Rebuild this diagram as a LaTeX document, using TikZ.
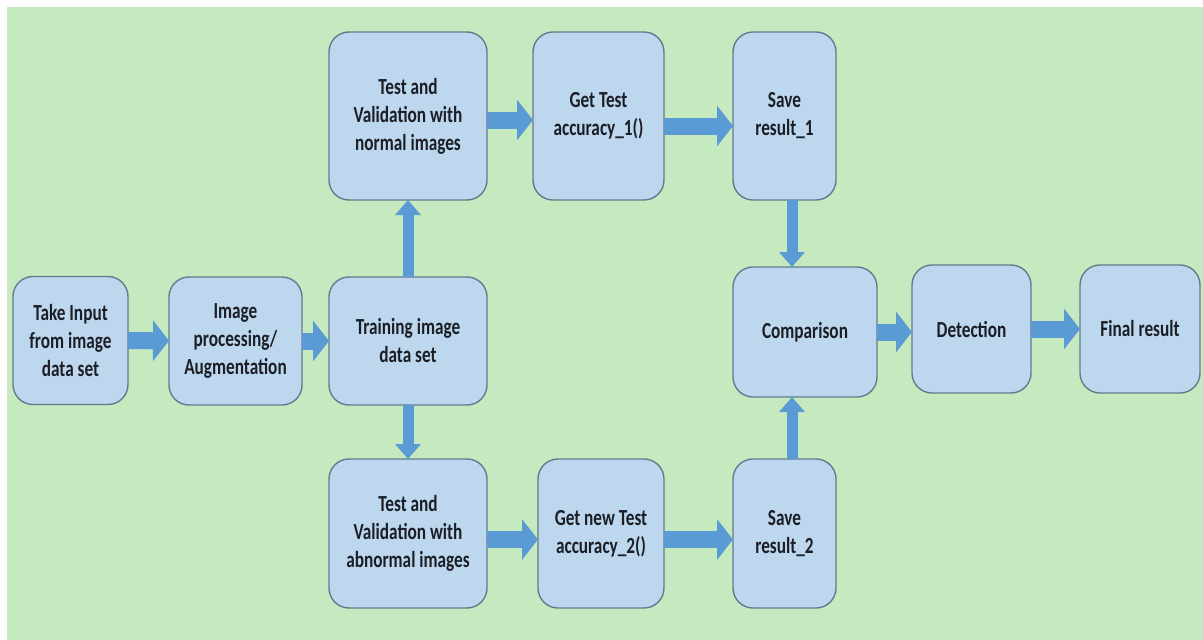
\documentclass[tikz,border=0pt]{standalone}
\usepackage{fontspec}
\newfontfamily\boxfont{Carlito}[FakeStretch=0.75]
\usepackage{tikz}
\usetikzlibrary{arrows.meta}

\definecolor{bggreen}{RGB}{198,234,192}
\definecolor{boxblue}{RGB}{189,215,238}
\definecolor{boxline}{RGB}{102,122,140}
\definecolor{arrowblue}{RGB}{91,155,213}
\definecolor{txtdark}{RGB}{28,30,38}

\begin{document}
\begin{tikzpicture}[
                x=1pt,y=-1pt,
                stagebox/.style={rectangle,rounded corners=20pt,draw=boxline,line width=1.4pt,
                    fill=boxblue,inner sep=0pt,outer sep=0pt,align=center,text=txtdark,
                    font=\boxfont\bfseries\fontsize{23}{28}\selectfont},
                flowh/.style={draw=arrowblue,line width=17pt,-{Triangle[length=16pt,width=40pt]}},
                flowv/.style={draw=arrowblue,line width=11pt,-{Triangle[length=15pt,width=25pt]}}
            ]
                % background
                \fill[white] (0,0) rectangle (1203,640);
                \fill[bggreen] (7,7) rectangle (1203,640);

                % middle row
                \node (take)  [stagebox,minimum width=115pt,minimum height=128pt] at (70.5,340.5) {Take Input\\from image\\data set};
                \node (prep)  [stagebox,minimum width=133pt,minimum height=128pt] at (235.5,341) {Image\\processing/\\Augmentation};
                \node (train) [stagebox,minimum width=158pt,minimum height=128pt] at (408,341) {Training image\\data set};

                % upper branch
                \node (normal)  [stagebox,minimum width=158pt,minimum height=168pt] at (408,116) {Test and\\Validation with\\normal images};
                \node (accone)  [stagebox,minimum width=131pt,minimum height=168pt] at (598.5,116) {Get Test\\accuracy\_1()};
                \node (saveone) [stagebox,minimum width=103pt,minimum height=168pt] at (784.5,116) {Save\\result\_1};

                % lower branch
                \node (abnormal) [stagebox,minimum width=158pt,minimum height=149pt] at (408,533.5) {Test and\\Validation with\\abnormal images};
                \node (acctwo)   [stagebox,minimum width=126pt,minimum height=149pt] at (601,533.5) {Get new Test\\accuracy\_2()};
                \node (savetwo)  [stagebox,minimum width=103pt,minimum height=149pt] at (784.5,533.5) {Save\\result\_2};

                % right part
                \node (compare) [stagebox,minimum width=144pt,minimum height=130pt] at (805,332) {Comparison};
                \node (detect)  [stagebox,minimum width=119pt,minimum height=128pt] at (971.5,329) {Detection};
                \node (final)   [stagebox,minimum width=120pt,minimum height=128pt] at (1140,329) {Final result};

                \draw[flowh] (take) -- (prep);
                \draw[flowh] (prep) -- (train);
                \draw[flowv] (train) -- (normal);
                \draw[flowv] (train) -- (abnormal);
                \draw[flowh] ([yshift=-4pt]normal.east) -- ([yshift=-4pt]normal.east -| accone.west);
                \draw[flowh] ([yshift=-10pt]accone.east) -- ([yshift=-10pt]accone.east -| saveone.west);
                \draw[flowh] ([yshift=-6pt]abnormal.east) -- ([yshift=-6pt]abnormal.east -| acctwo.west);
                \draw[flowh] ([yshift=-6pt]acctwo.east) -- ([yshift=-6pt]acctwo.east -| savetwo.west);
                \draw[flowv] ([xshift=7.5pt]saveone.south) -- ([xshift=7.5pt]saveone.south |- compare.north);
                \draw[flowv] ([xshift=7.5pt]savetwo.north) -- ([xshift=7.5pt]savetwo.north |- compare.south);
                \draw[flowh] (compare) -- (compare.east -| detect.west);
                \draw[flowh] (detect) -- (final);
            \end{tikzpicture}
\end{document}
